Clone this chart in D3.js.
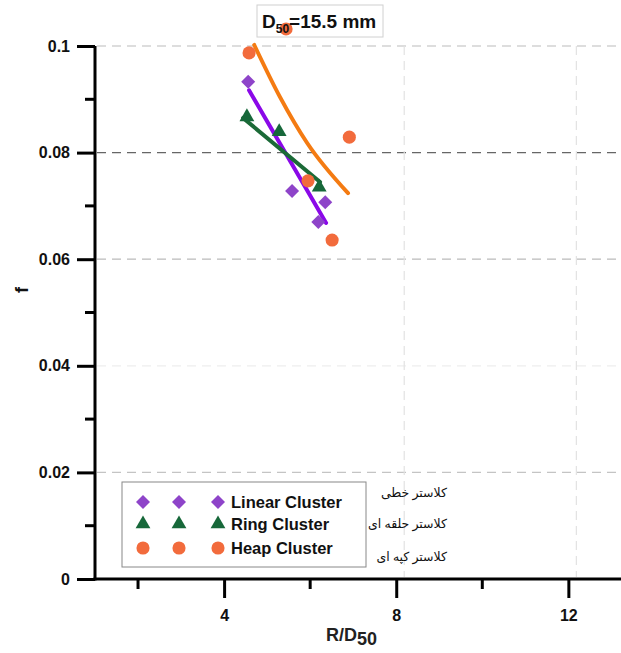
<!DOCTYPE html>
<meta charset="utf-8">
<script src="https://cdn.jsdelivr.net/npm/d3@7"></script>
<style>
  body { margin: 0; background: #fff; }
  text { font-family: "Liberation Sans", Arial, sans-serif; }
</style>
<div id="chart"></div>
<script>
  const w = 621, h = 653

  // measured points, R/D50 vs f
  const linearX = [4.56, 5.58, 6.35, 6.19]
  const linearF = [0.0933, 0.0728, 0.0707, 0.0670]
  const ringX = [4.53, 5.28, 6.21]
  const ringF = [0.0867, 0.0839, 0.0735]
  const heapX = [4.58, 5.44, 5.95, 6.91, 6.51]
  const heapF = [0.0987, 0.1032, 0.0747, 0.0829, 0.0636]

  // fitted trend lines
  const linearFitX = [4.58, 6.37]
  const linearFitF = [0.0917, 0.0668]
  const ringFitX = [4.44, 6.23]
  const ringFitF = [0.0865, 0.0745]
  const heapFitX = [4.70, 5.30, 5.93, 6.88]
  const heapFitF = [0.1002, 0.0904, 0.0818, 0.0724]

  const xMajor = [4, 8, 12]
  const xMinor = [2, 6, 10]
  const yMajor = [0, 0.02, 0.04, 0.06, 0.08, 0.1]
  const yMinor = [0.01, 0.03, 0.05, 0.07, 0.09]

  const legendLabels = ["Linear Cluster", "Ring Cluster", "Heap Cluster"]
  const persianLabels = ["کلاستر خطی", "کلاستر حلقه ای", "کلاستر کپه ای"]

  const x = d3.scaleLinear().domain([1, 13.2]).range([95, 620])
  const y = d3.scaleLinear().domain([0, 0.1]).range([579, 46])

  const svg = d3.select("#chart").append("svg")
    .attr("width", w).attr("height", h)

  // grid
  const gridColor = {0.1: "#bbb", 0.08: "#666", 0.06: "#bbb", 0.04: "#eee", 0.02: "#c4c4c4"}
  svg.append("g").selectAll("line")
    .data(yMajor.filter(d => d > 0))
    .join("line")
      .attr("x1", 97).attr("x2", w)
      .attr("y1", d => y(d)).attr("y2", d => y(d))
      .attr("stroke", d => gridColor[d])
      .attr("stroke-width", 1.2)
      .attr("stroke-dasharray", "9,6")
  svg.append("g").selectAll("line")
    .data([8, 12])
    .join("line")
      .attr("x1", d => x(d) + 8).attr("x2", d => x(d) + 8)
      .attr("y1", y(0.1)).attr("y2", y(0) - 2)
      .attr("stroke", "#e2e2e2")
      .attr("stroke-width", 1.2)
      .attr("stroke-dasharray", "9,6")

  // axes
  const yAxis = g => g
    .attr("transform", "translate(95,0)")
    .call(d3.axisLeft(y).tickValues(yMajor).tickSize(18).tickPadding(7)
      .tickFormat(d => d === 0 ? "0" : d3.format("~g")(d)))
  const xAxis = g => g
    .attr("transform", `translate(0,${y(0)})`)
    .call(d3.axisBottom(x).tickValues(xMajor).tickSize(19).tickPadding(12))

  const ya = svg.append("g").call(yAxis)
  const xa = svg.append("g").call(xAxis)
  ya.select(".domain").attr("d", `M0,${y(0) + 1.5}V${y(0.1)}`)
  xa.select(".domain").attr("d", `M${x(1) - 1.5},0H${w}`)
  ;[ya, xa].forEach(a => {
    a.select(".domain").attr("stroke-width", 3).attr("stroke", "#000")
    a.selectAll(".tick line").attr("stroke-width", 3).attr("stroke", "#000")
    a.selectAll(".tick text").attr("font-size", 16).attr("font-weight", "bold")
      .attr("fill", "#111")
  })
  ya.append("g").selectAll("line").data(yMinor).join("line")
    .attr("x1", -10).attr("x2", 0)
    .attr("y1", d => y(d)).attr("y2", d => y(d))
    .attr("stroke", "#000").attr("stroke-width", 3)
  xa.append("g").selectAll("line").data(xMinor).join("line")
    .attr("x1", d => x(d)).attr("x2", d => x(d))
    .attr("y1", 0).attr("y2", 10)
    .attr("stroke", "#000").attr("stroke-width", 3)

  svg.append("text")
    .attr("transform", "translate(28,290) rotate(-90)")
    .attr("text-anchor", "middle")
    .attr("font-size", 18).attr("font-weight", "bold")
    .attr("fill", "#111")
    .text("f")
  const xl = svg.append("text")
    .attr("x", 326).attr("y", 641)
    .attr("font-size", 18).attr("font-weight", "bold").attr("fill", "#222")
  xl.append("tspan").text("R/D")
  xl.append("tspan").attr("dy", 4).text("50")

  // series
  const series = [
    {xs: linearX, fs: linearF, fx: linearFitX, ff: linearFitF, shape: d3.symbolDiamond2, size: 125,
      color: "#8e44c9", line: "#8a08e8"},
    {xs: ringX, fs: ringF, fx: ringFitX, ff: ringFitF, shape: d3.symbolTriangle, size: 95,
      color: "#17683a", line: "#1b6a37"},
    {xs: heapX, fs: heapF, fx: heapFitX, ff: heapFitF, shape: d3.symbolCircle, size: 135,
      color: "#f26b3c", line: "#f47b12"}
  ]

  // title box
  svg.append("rect")
    .attr("x", 257).attr("y", 5).attr("width", 126).attr("height", 32)
    .attr("fill", "#fff").attr("stroke", "#d0d0d0").attr("stroke-width", 1)

  const line = d3.line().x(d => x(d[0])).y(d => y(d[1])).curve(d3.curveMonotoneX)
  series.forEach(s => {
    svg.append("path")
      .datum(s.fx.map((v, i) => [v, s.ff[i]]))
      .attr("d", line)
      .attr("fill", "none")
      .attr("stroke", s.line)
      .attr("stroke-width", 4)
      .attr("stroke-linecap", "round")
  })
  series.forEach(s => {
    svg.append("g").selectAll("path")
      .data(s.xs.map((v, i) => [v, s.fs[i]]))
      .join("path")
        .attr("transform", d => `translate(${x(d[0])},${y(d[1])})`)
        .attr("d", d3.symbol().type(s.shape).size(s.size))
        .attr("fill", s.color)
  })

  const title = svg.append("text")
    .attr("x", 262).attr("y", 28)
    .attr("font-size", 19).attr("font-weight", "bold").attr("fill", "#111")
  title.append("tspan").text("D")
  title.append("tspan").attr("font-size", 12).attr("dy", 5).text("50")
  title.append("tspan").attr("dy", -5).text("=15.5 mm")

  // legend
  const lg = svg.append("g")
  lg.append("rect")
    .attr("x", 122).attr("y", 482).attr("width", 244).attr("height", 85)
    .attr("fill", "#fff").attr("stroke", "#888").attr("stroke-width", 1)
  const rowY = [502, 524, 548]
  series.forEach((s, i) => {
    ;[143, 179, 218].forEach(cx => {
      lg.append("path")
        .attr("transform", `translate(${cx},${rowY[i]})`)
        .attr("d", d3.symbol().type(s.shape).size(s.size))
        .attr("fill", s.color)
    })
    lg.append("text")
      .attr("x", 231).attr("y", rowY[i] + 6)
      .attr("font-size", 16.5).attr("font-weight", "bold").attr("fill", "#111")
      .text(legendLabels[i])
  })
  const pY = [497, 528, 561]
  persianLabels.forEach((t, i) => {
    svg.append("text")
      .attr("x", 447).attr("y", pY[i])
      .attr("text-anchor", "end")
      .style("font-family", "'Liberation Serif', 'DejaVu Serif', 'DejaVu Sans', serif")
      .attr("font-size", 12.5).attr("fill", "#111")
      .text(t)
  })
</script>
